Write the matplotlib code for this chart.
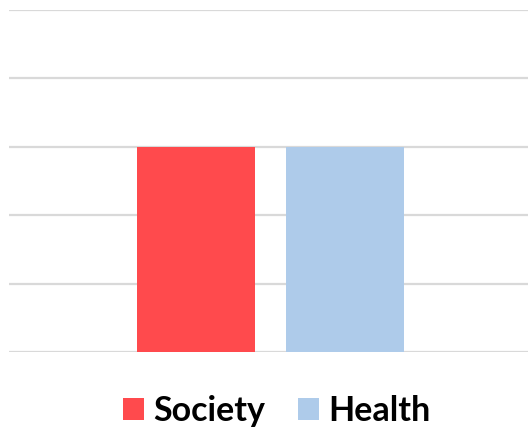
import matplotlib
matplotlib.use("Agg")
import matplotlib.pyplot as plt
import numpy as np

series = ["Society", "Health"]
values = [3, 3]
colors = ["#ff4a4d", "#aecbea"]
y_max = 5

fig = plt.figure(figsize=(5.28, 4.32), dpi=100)
ax = fig.add_axes([9 / 528, 1 - 352 / 432, 1 - 9 / 528, (352 - 10) / 432])

bar_w = 0.227
offsets = [-0.139, 0.148]
for name, val, col, off in zip(series, values, colors, offsets):
    ax.bar(off, val, width=bar_w, color=col, label=name, zorder=3)

ax.set_xlim(-0.5, 0.5)
ax.set_ylim(0, y_max)
ax.set_yticks(np.arange(0, y_max + 1, 1))
ax.set_xticks([])
ax.yaxis.grid(True, color="#d9d9d9", linewidth=1.6, zorder=0)
ax.tick_params(axis="y", length=0, labelleft=False)
for s in ax.spines.values():
    s.set_visible(False)

fs = 24.5
fig.legend(loc="center", bbox_to_anchor=(0.524, 1 - 411 / 432), ncol=2, frameon=False,
           prop={"family": "Lato", "weight": "bold", "size": fs},
           handlelength=0.62, handleheight=0.62, handletextpad=0.28,
           columnspacing=0.95, borderpad=0)

fig.savefig("out.png", dpi=100)
